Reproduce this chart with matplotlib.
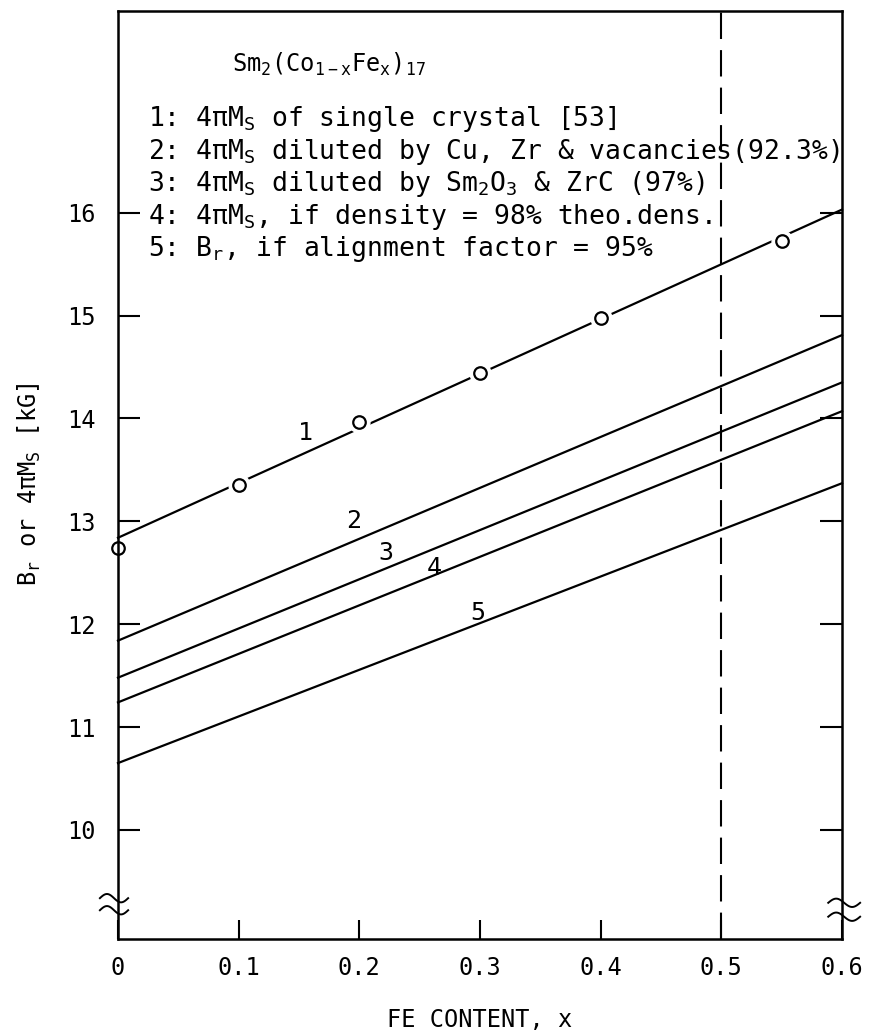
import numpy as np
import matplotlib
matplotlib.use("Agg")
import matplotlib.pyplot as plt

# ---- data ----
x_pts = [0.0, 0.1, 0.2, 0.3, 0.4, 0.55]
ms_pts = [12.74, 13.35, 13.97, 14.44, 14.98, 15.72]

x_ends = [0.0, 0.6]
line1 = [12.84, 16.03]
line2 = [11.84, 14.81]
line3 = [11.48, 14.35]
line4 = [11.24, 14.07]
line5 = [10.65, 13.37]
line_names = ["1", "2", "3", "4", "5"]

xticks = [0.0, 0.1, 0.2, 0.3, 0.4, 0.5, 0.6]
xticklabels = ["0", "0.1", "0.2", "0.3", "0.4", "0.5", "0.6"]
yticks = [10, 11, 12, 13, 14, 15, 16]
yticklabels = ["10", "11", "12", "13", "14", "15", "16"]
x_saturation = 0.5

title_txt = r"$Sm_2(Co_{1-x}Fe_x)_{17}$"
legend_lines = [
    r"1: 4π$M_S$ of single crystal [53]",
    r"2: 4π$M_S$ diluted by Cu, Zr & vacancies(92.3%)",
    r"3: 4π$M_S$ diluted by $Sm_2O_3$ & ZrC (97%)",
    r"4: 4π$M_S$, if density = 98% theo.dens.",
    r"5: $B_r$, if alignment factor = 95%",
]

# ---- style ----
plt.rcParams["font.family"] = ["DejaVu Sans Mono", "DejaVu Sans"]
plt.rcParams["mathtext.default"] = "regular"
plt.rcParams["lines.scale_dashes"] = False

fig = plt.figure(figsize=(8.69, 10.32), dpi=100)
L, R, T, B = 118, 842, 11, 939
W, H = 869, 1032
ax = fig.add_axes([L / W, 1 - B / H, (R - L) / W, (B - T) / H])
ax.set_xlim(0, 0.6)
ax.set_ylim(8.94, 17.96)

lw = 1.6
for yv in (line1, line2, line3, line4, line5):
    ax.plot(x_ends, yv, color="black", lw=lw, zorder=2, clip_on=False)

# white halo to break line 1 around the points, then open circles
ax.plot(x_pts[1:], ms_pts[1:], ls="none", marker="o", ms=15, mfc="white",
        mec="white", zorder=2.2, clip_on=False)
ax.plot(x_pts, ms_pts, ls="none", marker="o", ms=9, mfc="none",
        mec="black", mew=1.6, zorder=3, clip_on=False)

# dashed vertical line at x = 0.5
ax.axvline(x_saturation, color="black", lw=1.5, dashes=[19, 8], zorder=1)

# curve numbers
lab_x = [0.155, 0.195, 0.222, 0.262, 0.298]
lab_y = [13.86, 13.0, 12.69, 12.55, 12.11]
for name, lx, ly in zip(line_names, lab_x, lab_y):
    ax.text(lx, ly, name, fontsize=18, ha="center", va="center")

# title and legend text
ax.text(0.157, 0.934, title_txt, transform=ax.transAxes, fontsize=17,
        ha="left", va="baseline")
leg_y = [0.876, 0.840, 0.806, 0.771, 0.736]
for txt, yy in zip(legend_lines, leg_y):
    ax.text(0.041, yy, txt, transform=ax.transAxes, fontsize=19,
            ha="left", va="baseline")

# ticks
ax.set_xticks(xticks)
ax.set_xticklabels(xticklabels)
ax.set_yticks(yticks)
ax.set_yticklabels(yticklabels)
ax.tick_params(axis="x", direction="in", length=14, width=1.5, pad=12,
               labelsize=17, top=False)
ax.tick_params(axis="y", direction="in", length=16, width=1.5, pad=16,
               labelsize=17, right=True)
for sp in ax.spines.values():
    sp.set_linewidth(1.8)

ax.set_xlabel("FE CONTENT, x", fontsize=17)
ax.xaxis.set_label_coords(0.5, -0.087)
ax.xaxis.label.set_va("center")
ax.set_ylabel(r"$B_r$ or 4π$M_S$ [kG]", fontsize=17)
ax.yaxis.set_label_coords(-0.122, 0.49)
ax.yaxis.label.set_va("center")

# axis-break squiggles
def squiggle(x0, x1, yc):
    t = np.linspace(0, 1, 40)
    xs = x0 + (x1 - x0) * t
    ys = yc + 0.0045 * np.sin(2 * np.pi * t)
    ax.plot(xs, ys, color="black", lw=1.4, transform=ax.transAxes,
            clip_on=False, zorder=4)

squiggle(-0.025, 0.014, 0.044)
squiggle(-0.025, 0.014, 0.031)
squiggle(0.981, 1.025, 0.039)
squiggle(0.981, 1.025, 0.024)

fig.savefig("out.png", dpi=100)
